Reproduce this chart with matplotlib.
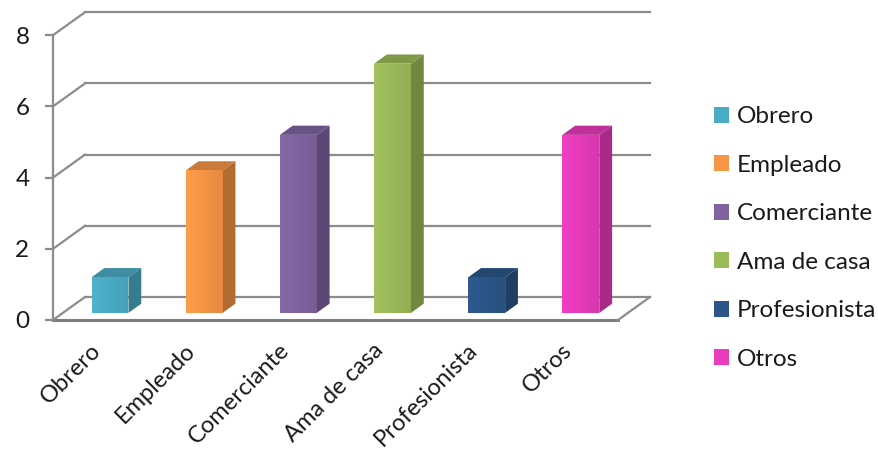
import matplotlib
matplotlib.use('Agg')
import matplotlib.pyplot as plt
import matplotlib.transforms as mtransforms
from matplotlib.patches import Polygon, Patch
from matplotlib.colors import to_rgb
import numpy as np

categories = ['Obrero', 'Empleado', 'Comerciante', 'Ama de casa', 'Profesionista', 'Otros']
values = [1, 4, 5, 7, 1, 5]
front_colors = ['#4bacc6', '#f79646', '#8064a2', '#9bbb59', '#2c5689', '#e83cbc']
y_ticks = [0, 2, 4, 6, 8]

plt.rcParams['font.family'] = ['Lato', 'DejaVu Sans']

W, H = 879, 455
fig = plt.figure(figsize=(W / 100, H / 100), dpi=100)
fig.patch.set_facecolor('white')

x0px, x1px = 53, 618
ypx0 = 320
upx = (x1px - x0px) / 6.0
vpx = 35.6
xlim = (0, 6.45)
ylim = (0, 8.8)
ax = fig.add_axes([x0px / W, (H - ypx0) / H, xlim[1] * upx / W, ylim[1] * vpx / H])
ax.set_xlim(*xlim)
ax.set_ylim(*ylim)
ax.patch.set_alpha(0)

DX = 32 / upx
DY = 23 / vpx
grid_c = '#8c8c8c'
n = len(categories)

# back wall gridlines and left wall diagonals
for v in y_ticks:
    ax.plot([DX, n + DX], [v + DY, v + DY], color=grid_c, lw=1.6, zorder=1, clip_on=False)
    ax.plot([0, DX], [v, v + DY], color=grid_c, lw=1.6, zorder=1, clip_on=False)
# floor edges
ax.plot([0, n], [0, 0], color='#7f7f7f', lw=2.2, zorder=1, clip_on=False)
ax.plot([n, n + DX], [0, DY], color=grid_c, lw=1.6, zorder=1, clip_on=False)


def shade(c, f):
    r, g, b = to_rgb(c)
    return (r * f, g * f, b * f)


f0, f1 = 0.31, 0.71
half = 0.196
for i, (v, c) in enumerate(zip(values, front_colors)):
    ox, oy = f0 * DX, f0 * DY
    ddx, ddy = (f1 - f0) * DX, (f1 - f0) * DY
    xl = i + 0.5 - half + ox
    xr = i + 0.5 + half + ox
    yb = oy
    yt = v + oy
    front = Polygon([(xl, yb), (xr, yb), (xr, yt), (xl, yt)], closed=True,
                    facecolor=c, edgecolor='none', zorder=3)
    ax.add_patch(front)
    base = np.array(to_rgb(c))
    grad = np.linspace(1.04, 0.93, 32)
    img = np.clip(base[None, None, :] * grad[None, :, None], 0, 1)
    im = ax.imshow(img, extent=(xl, xr, yb, yt), aspect='auto', zorder=3.1,
                   interpolation='bilinear')
    im.set_clip_path(front)
    ax.add_patch(Polygon([(xr, yb), (xr + ddx, yb + ddy), (xr + ddx, yt + ddy), (xr, yt)],
                         closed=True, facecolor=shade(c, 0.72), edgecolor='none', zorder=3))
    ax.add_patch(Polygon([(xl, yt), (xr, yt), (xr + ddx, yt + ddy), (xl + ddx, yt + ddy)],
                         closed=True, facecolor=shade(c, 0.82), edgecolor='none', zorder=3))

ax.set_xlim(*xlim)
ax.set_ylim(*ylim)

for s in ['top', 'right', 'bottom']:
    ax.spines[s].set_visible(False)
ax.spines['left'].set_bounds(0, 8)
ax.spines['left'].set_color(grid_c)
ax.spines['left'].set_linewidth(1.6)

fs = 17.5
ax.set_yticks(y_ticks)
ax.set_yticklabels([str(t) for t in y_ticks])
ax.tick_params(axis='y', length=6, width=1.6, color=grid_c, pad=11,
               labelsize=fs, labelcolor='#1a1a1a')
ax.set_xticks([i + 0.5 for i in range(n)])
ax.set_xticklabels(categories, rotation=45, ha='right', rotation_mode='default')
ax.tick_params(axis='x', length=0, pad=14, labelsize=17, labelcolor='#1a1a1a')
shift = mtransforms.ScaledTranslation(5 / 100, 0, fig.dpi_scale_trans)
for lbl in ax.get_xticklabels():
    lbl.set_transform(lbl.get_transform() + shift)

handles = [Patch(facecolor=c, edgecolor='none') for c in front_colors]
fig.legend(handles, categories, loc='center left', bbox_to_anchor=(714 / W, 1 - 238 / H),
           frameon=False, fontsize=fs, handlelength=0.62, handleheight=0.62,
           handletextpad=0.33, labelspacing=1.13, borderpad=0, borderaxespad=0,
           labelcolor='#1a1a1a')

fig.savefig('out.png', dpi=100)
